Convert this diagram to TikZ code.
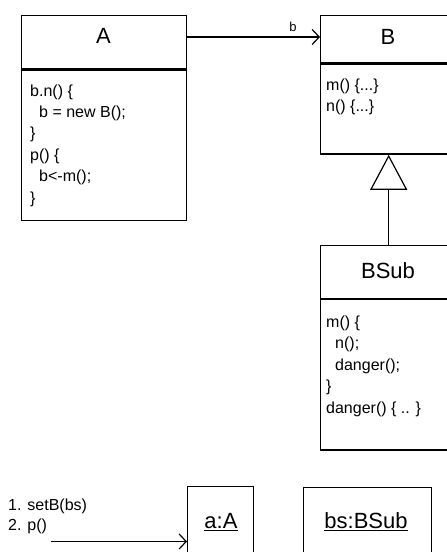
\documentclass[tikz,border=0pt]{standalone}
\usepackage{fontspec}
\setmainfont{Liberation Sans}
\usetikzlibrary{arrows.meta}

% underlined object name with a thin rule below the baseline
\newcommand\objname[1]{\setbox0\hbox{#1}\rlap{\rule[-3.4pt]{\wd0}{1.1pt}}\box0}

\tikzset{
  frame/.style={draw, line width=1.4pt, inner sep=0pt, anchor=north west},
  title/.style={font=\fontsize{22}{26}\selectfont, inner sep=0pt, anchor=base},
  % code blocks are placed by the baseline of their last line
  code/.style={font=\fontsize{16}{21.4}\selectfont, align=left, inner sep=0pt, anchor=base west},
  small/.style={font=\fontsize{13}{15}\selectfont, inner sep=0pt},
  assoc/.style={line width=1.2pt, -{Straight Barb[length=7pt,width=15pt,line width=1.2pt]}},
  inherit/.style={line width=1.2pt, -{Triangle[open,length=35pt,width=37pt,line width=1.2pt]}},
}

\begin{document}
\begin{tikzpicture}[x=1pt,y=-1pt]
\useasboundingbox (0,0) rectangle (447,552);
\clip (0,0) rectangle (447,552);

% class A
\node[frame, minimum width=165.3pt, minimum height=53.3pt] (Ahead) at (20.7,15) {};
\node[frame, minimum width=165.3pt, minimum height=150.2pt] (Abody) at (Ahead.south west) {};
\node[title] (Aname) at (103.4,43.4) {A};
\node[code] (Acode) at (30,203) {b.n() \{\\\hspace*{9pt}b = new B();\\\}\\p() \{\\\hspace*{9pt}b<-m();\\\}};

% class B
\node[frame, minimum width=136pt, minimum height=47pt] (Bhead) at (320,15) {};
\node[frame, minimum width=136pt, minimum height=90pt] (Bbody) at (Bhead.south west) {};
\node[title] (Bname) at (388,44.8) {B};
\node[code] (Bcode) at (326,111.4) {m() \{...\}\\n() \{...\}};

% class BSub
\node[frame, minimum width=136pt, minimum height=52.5pt] (BShead) at (320,245) {};
\node[frame, minimum width=136pt, minimum height=150.5pt] (BSbody) at (BShead.south west) {};
\node[title] (BSname) at (388,278) {BSub};
\node[code] (BScode) at (326,413) {m() \{\\\hspace*{9pt}n();\\\hspace*{9pt}danger();\\\}\\danger() \{ .. \}};

% association and generalisation
\coordinate (assocY) at (0,37);
\draw[assoc] (Ahead.east |- assocY) -- (Bhead.west |- assocY);
\node[small, anchor=base] (bname) at (293,31) {b};
\draw[inherit] (BShead.north) -- (Bbody.south);

% objects
\node[frame, minimum width=65.5pt, minimum height=90pt] (objA) at (187,486) {};
\node[title] (objAname) at (221,528) {\objname{a:A}};
\node[frame, minimum width=128pt, minimum height=90pt] (objBS) at (302.7,486.5) {};
\node[title] (objBSname) at (366,528) {\objname{bs:BSub}};

% messages
\node[code, font=\fontsize{16}{20.5}\selectfont] (msgs) at (8,530.5) {1. setB(bs)\\2. p()};
\coordinate (callstart) at (50.7,541.5);
\draw[assoc] (callstart) -- (objA.west |- callstart);
\end{tikzpicture}
\end{document}
